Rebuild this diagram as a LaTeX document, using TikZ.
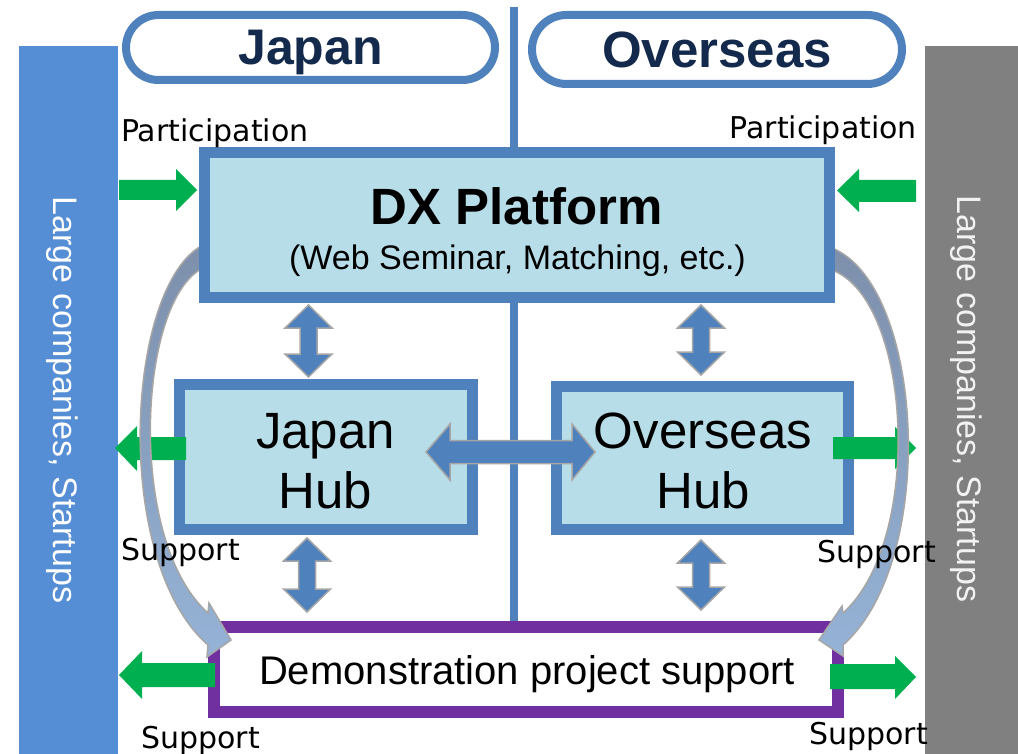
\documentclass[tikz,border=0pt]{standalone}
\usepackage{fontspec}
\setmainfont{Liberation Sans}
\newfontfamily\lblfont{DejaVu Sans}
\definecolor{bstroke}{HTML}{4F81BD}
\definecolor{bfill}{HTML}{B7DDE8}
\definecolor{lbar}{HTML}{558ED5}
\definecolor{gbar}{HTML}{808080}
\definecolor{purp}{HTML}{7030A0}
\definecolor{grn}{HTML}{00B050}
\definecolor{navy}{HTML}{142A4C}
\definecolor{arrdark}{HTML}{7D8FAB}
\definecolor{arrmid}{HTML}{A9B7CA}
\definecolor{arrlight}{HTML}{95B3D7}
\definecolor{outl}{HTML}{A6A6A6}
\newcommand\vdarrow[3]{\draw[dblarrow] (#1,#2) -- (#1+23.5,#2+23) -- (#1+8.5,#2+23) -- (#1+8.5,#3-23) -- (#1+23.5,#3-23) -- (#1,#3) -- (#1-23.5,#3-23) -- (#1-8.5,#3-23) -- (#1-8.5,#2+23) -- (#1-23.5,#2+23) -- cycle;}
\begin{document}
\begin{tikzpicture}[x=1pt,y=-1pt,
  box/.style={draw=bstroke, fill=bfill, line width=11pt, inner sep=0pt},
  pill/.style={draw=bstroke, fill=white, line width=8pt, inner sep=0pt},
  txt/.style={inner sep=0pt, anchor=base},
  garrow/.style={fill=grn},
  dblarrow/.style={fill=bstroke, draw=outl, line width=1.5pt, line join=miter},
  curvarrow/.style={top color=arrdark, middle color=arrmid, bottom color=arrlight, draw=outl, line width=1.5pt, line join=miter},
  lbl/.style={inner sep=0pt, font=\lblfont\fontsize{30}{36}\selectfont}
]
\useasboundingbox (0,0) rectangle (1018,754);
\fill[white] (0,0) rectangle (1018,754);

% side bars
\fill[lbar] (19,46) rectangle (118,754);
\fill[gbar] (925,46) rectangle (1018,754);

% pills
\node[pill, rounded corners=32.5pt, minimum width=369pt, minimum height=65pt] (pjapan) at (310.5,47.5) {};
\node[pill, rounded corners=34.5pt, minimum width=370pt, minimum height=69pt] (pover) at (717,49.5) {};

% boxes
\node[box, minimum width=293pt, minimum height=145pt] (jhub) at (326,457) {};
\node[box, minimum width=292pt, minimum height=143pt] (ohub) at (702.5,458) {};
\node[draw=purp, fill=white, line width=12pt, inner sep=0pt, minimum width=624pt, minimum height=85pt] (demo) at (526,669.5) {};

% vertical divider
\coordinate (vtop) at (513.5,7);
\draw[bstroke, line width=8pt] (vtop) -- (vtop |- demo.north);

% green arrows (hubs, demo)
\fill[garrow] (186,437) -- (137,437) -- (137,426) -- (115,448) -- (137,471) -- (137,460) -- (186,460) -- cycle;
\fill[garrow] (833,437) -- (895,437) -- (895,427) -- (916,448) -- (895,469) -- (895,459) -- (833,459) -- cycle;
\fill[garrow] (215,663) -- (142,663) -- (142,651) -- (119,675) -- (142,699) -- (142,687) -- (215,687) -- cycle;
\fill[garrow] (830,664) -- (895,664) -- (895,656) -- (916,677) -- (895,699) -- (895,689) -- (830,689) -- cycle;

% blue double arrows
\vdarrow{308.5}{305}{377}
\vdarrow{307}{538}{612}
\vdarrow{701}{305}{375}
\vdarrow{701}{540}{610}
\draw[dblarrow] (426,452) -- (450,424) -- (450,440.5) -- (572,440.5) -- (572,424) -- (595,452) -- (572,480) -- (572,463.5) -- (450,463.5) -- (450,480) -- cycle;

% curved arrows
\path[curvarrow] (203,245) .. controls (126,285) and (111,560) .. (208,645) -- (207,657) -- (231,640) -- (209,603) -- (208,613) .. controls (126,540) and (138,300) .. (203,268) -- cycle;
\path[curvarrow] (832,248) .. controls (924,285) and (939,560) .. (843,645) -- (843,656) -- (819,640) -- (842,606) -- (843,613) .. controls (924,540) and (912,300) .. (832,270) -- cycle;

% DX platform
\node[box, minimum width=625pt, minimum height=145pt] (dx) at (517,225) {};
\fill[garrow] (119,180) -- (176,180) -- (176,169) -- (197,190) -- (176,211) -- (176,200) -- (119,200) -- cycle;
\fill[garrow] (916,180) -- (859,180) -- (859,169) -- (837,190.5) -- (859,212) -- (859,202) -- (916,202) -- cycle;

% texts
\node[txt, text=navy, font=\fontsize{50}{60}\selectfont\bfseries] (tjapan) at (310.5,65) {Japan};
\node[txt, text=navy, font=\fontsize{51}{60}\selectfont\bfseries] (tover) at (717,67.5) {Overseas};
\node[txt, font=\fontsize{51}{60}\selectfont\bfseries] (tdx) at (516.5,225) {DX Platform};
\node[txt, font=\fontsize{34}{40}\selectfont] (tdxs) at (517.5,270) {(Web Seminar, Matching, etc.)};
\node[txt, font=\fontsize{51}{60}\selectfont] (tjh1) at (325.5,448) {Japan};
\node[txt, font=\fontsize{51}{60}\selectfont] (tjh2) at (325.5,508) {Hub};
\node[txt, font=\fontsize{51}{60}\selectfont] (toh1) at (703,448) {Overseas};
\node[txt, font=\fontsize{51}{60}\selectfont] (toh2) at (703,508) {Hub};
\node[txt, font=\fontsize{40}{46}\selectfont] (tdemo) at (527,684) {Demonstration project support};
\node[txt, rotate=-90, text=white, font=\fontsize{34}{40}\selectfont] (tleft) at (53,400) {Large companies, Startups};
\node[txt, rotate=-90, text=white!95!black, font=\fontsize{34}{40}\selectfont] (tright) at (957,399) {Large companies, Startups};

\node[lbl, anchor=base west] (pl) at (121,142) {Participation};
\node[lbl, anchor=base east] (pr) at (917,139) {Participation};
\node[lbl, anchor=base west] (s1) at (121,560) {Support};
\node[lbl, anchor=base east] (s2) at (936,562) {Support};
\node[lbl, anchor=base west] (s3) at (141,748) {Support};
\node[lbl, anchor=base east] (s4) at (928,744) {Support};
\end{tikzpicture}
\end{document}
